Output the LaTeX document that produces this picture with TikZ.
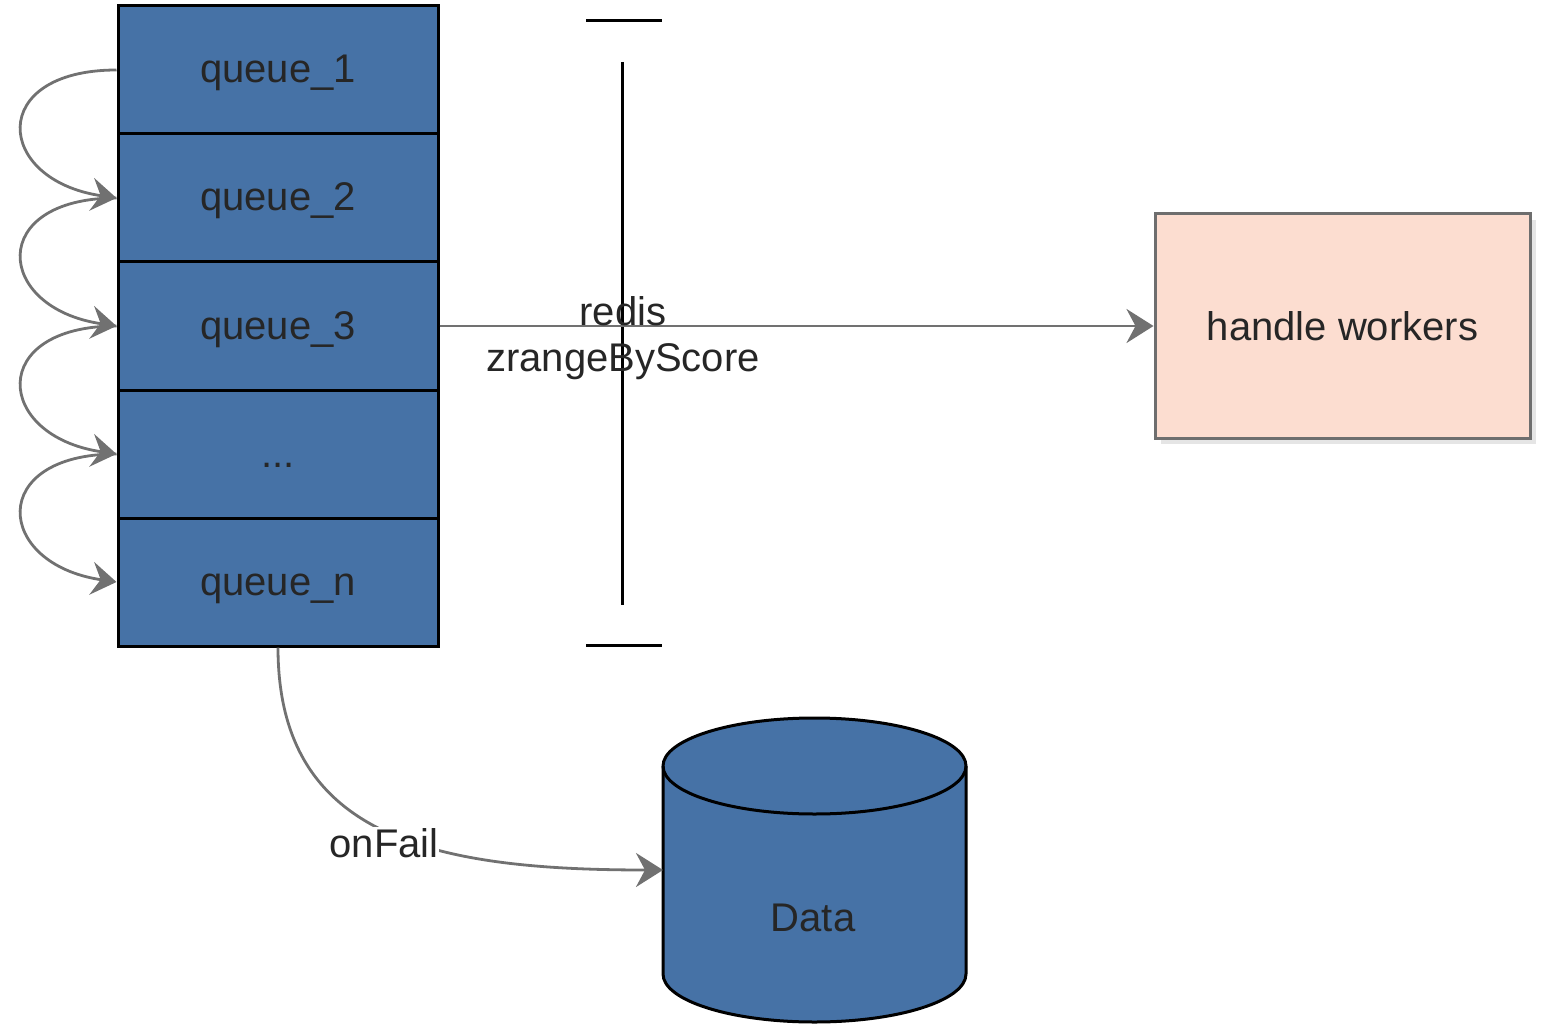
\documentclass[tikz,border=0pt]{standalone}
\usepackage{fontspec}
\setmainfont{Liberation Sans}
\usetikzlibrary{arrows.meta,shadows}
\definecolor{qblue}{HTML}{4672A6}
\definecolor{peach}{HTML}{FCDDD0}
\definecolor{edgegray}{HTML}{717171}
\definecolor{hwborder}{HTML}{6E6E6E}
\definecolor{txt}{HTML}{262626}
\begin{document}
\begin{tikzpicture}[x=1pt,y=-1pt,
  bigfont/.style={font=\fontsize{40}{46}\selectfont, text=txt},
  qbox/.style={draw=black, line width=3pt, fill=qblue, minimum width=320pt,
    minimum height=128pt, inner sep=0pt, bigfont, text height=30pt, text depth=4pt},
  hwbox/.style={draw=hwborder, line width=3pt, fill=peach, minimum width=375pt,
    minimum height=224pt, inner sep=0pt, bigfont,
    drop shadow={shadow xshift=6pt, shadow yshift=-6pt, fill=black!10, opacity=1}},
  conn/.style={draw=edgegray, line width=2.8pt,
    -{Stealth[length=27pt,width=34pt,inset=9pt]}},
  loopconn/.style={draw=edgegray, line width=2.8pt,
    -{Stealth[length=25pt,width=33pt,inset=9pt]}},
  barline/.style={draw=black, line width=3pt},
  lbl/.style={bigfont, inner sep=0pt, align=center},
  cylst/.style={draw=black, line width=3pt, fill=qblue}
]
\useasboundingbox (0,0) rectangle (1544,1024);

% queue stack
\node[qbox] (q1) at (278,70) {queue\_1};
\node[qbox] (q2) at (278,198) {queue\_2};
\node[qbox] (q3) at (278,326) {queue\_3};
\node[qbox] (q4) at (278,454) {...};
\node[qbox] (q5) at (278,582) {queue\_n};

% loops
\draw[loopconn] (q1.west) .. controls +(-130,0) and +(-122,-18) .. (q2.west);
\draw[loopconn] (q2.west) .. controls +(-130,0) and +(-122,-18) .. (q3.west);
\draw[loopconn] (q3.west) .. controls +(-130,0) and +(-122,-18) .. (q4.west);
\draw[loopconn] (q4.west) .. controls +(-130,0) and +(-122,-18) .. (q5.west);

% handle workers
\node[hwbox] (hw) at (1342.5,326) {handle workers};

% bracket
\draw[barline] (586,21) -- (662,21);
\draw[barline] (622,62) -- (622,605);
\draw[barline] (586,645) -- (662,645);

% main arrow
\draw[conn] (q3.east) -- (hw.west);
\node[lbl] (redis) at (623,338) {redis\\zrangeByScore};

% cylinder
\node[minimum width=303pt, minimum height=208pt, inner sep=0pt, outer sep=0pt] (cyl) at (814.5,870) {};
\draw[cylst] (cyl.north west) -- (cyl.south west)
  arc[start angle=180, end angle=360, x radius=151.5pt, y radius=48pt]
  -- (cyl.north east)
  arc[start angle=0, end angle=180, x radius=151.5pt, y radius=48pt] -- cycle;
\draw[draw=black, line width=3pt] (cyl.north west)
  arc[start angle=180, end angle=360, x radius=151.5pt, y radius=48pt];
\node[lbl] (data) at (813,918) {Data};

% onFail
\draw[conn] (q5.south) .. controls +(0,190) and +(-230,0) .. (cyl.west);
\node[lbl, fill=white, inner sep=1pt] (onfail) at (384,843) {onFail};
\end{tikzpicture}
\end{document}
